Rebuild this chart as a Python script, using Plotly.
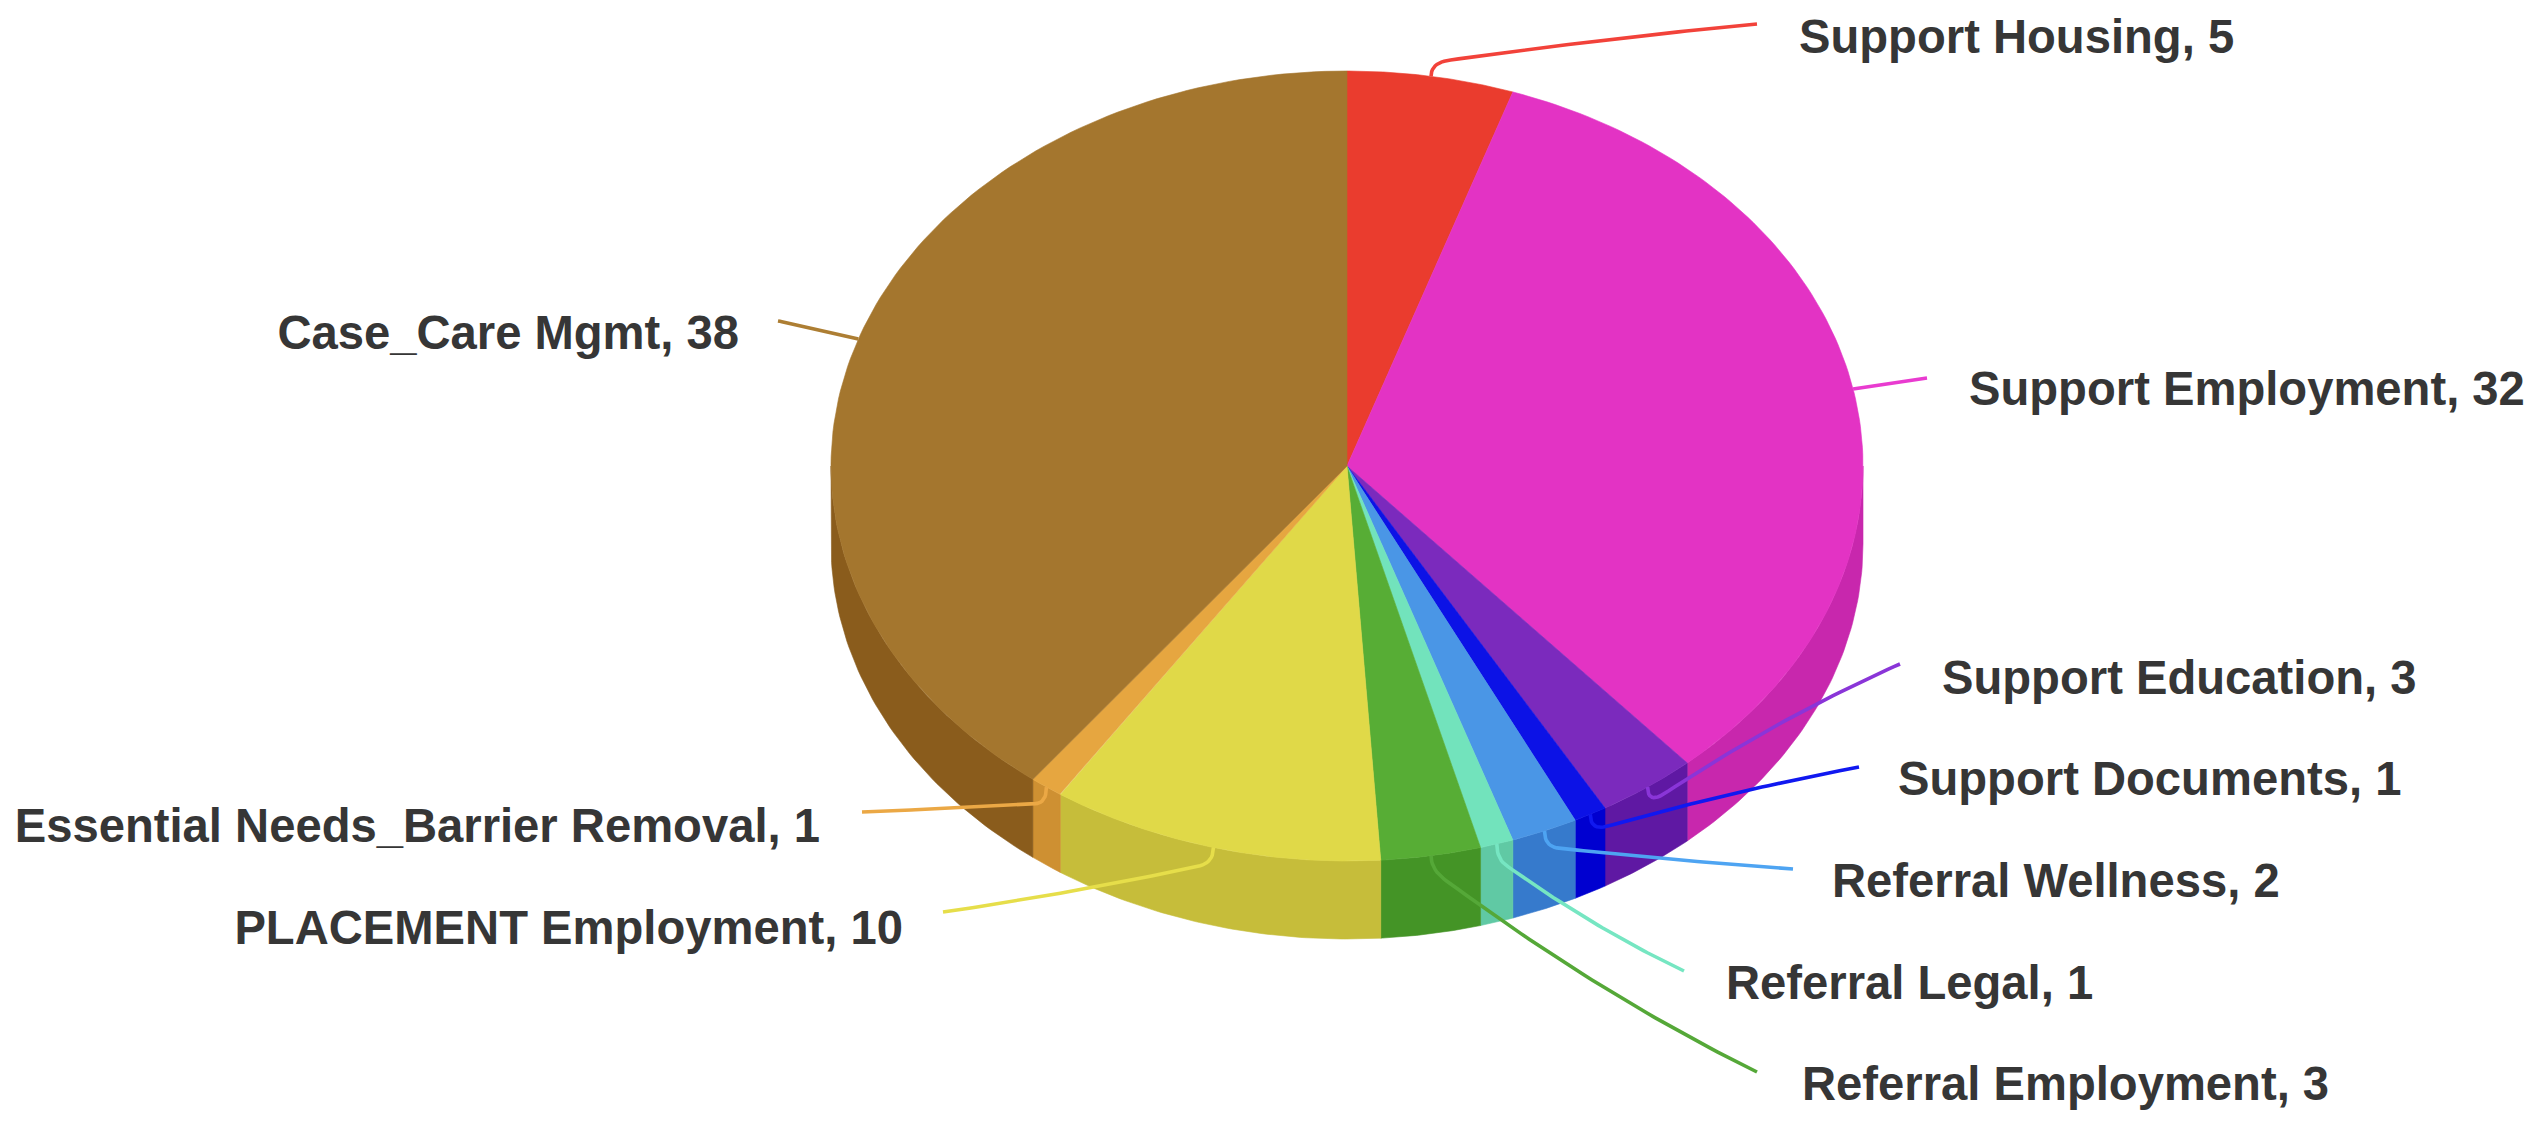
import numpy as np
import plotly.graph_objects as go

categories = ["Support Housing", "Support Employment", "Support Education", "Support Documents",
              "Referral Wellness", "Referral Legal", "Referral Employment", "PLACEMENT Employment",
              "Essential Needs_Barrier Removal", "Case_Care Mgmt"]
values = [5, 32, 3, 1, 2, 1, 3, 10, 1, 38]

top_colors = ["#EA3C2E", "#E333C4", "#7B2ABD", "#0C12E6", "#4A96E6", "#72E3BC", "#57AD35", "#E0D948", "#E6A640", "#A4762E"]
side_colors = ["#C9301F", "#C827AD", "#5F18A3", "#0000D0", "#367ACC", "#60C9A4", "#449426", "#C6BD3A", "#CE9032", "#8A5C1C"]
line_colors = ["#F2423A", "#E93BD0", "#8A35D8", "#1018F0", "#4EA4F2", "#76E6C2", "#55A838", "#E6DE4A", "#EBA845", "#AD7E33"]

# layout (pixels)
W, H = 2546, 1121
CX, CY, RX, RY, DEPTH = 1347, 466, 516, 395, 78
label_anchor = [(1757, 24), (1927, 378), (1900, 664), (1859, 767), (1793, 869), (1684, 971), (1757, 1072),
                (943, 912), (862, 812), (778, 321)]
label_text = [(1799, 41), (1969, 393), (1942, 682), (1898, 783), (1832, 885), (1726, 987), (1802, 1088),
              (903, 932), (820, 830), (739, 337)]
label_side = ["middle right"] * 7 + ["middle left"] * 3
FONT = "Liberation Sans, Arial, sans-serif"


def rim(theta_deg, depth=0.0):
    t = np.radians(theta_deg)
    return CX + RX * np.sin(t), CY - RY * np.cos(t) + depth


total = sum(values)
edges = np.cumsum([0] + values) / total * 360.0

fig = go.Figure()


def add_poly(xs, ys, color, name):
    fig.add_trace(go.Scatter(x=xs, y=ys, mode="lines", fill="toself", fillcolor=color,
                             line=dict(color=color, width=0.6), hoverinfo="skip", name=name,
                             showlegend=False))


# side walls (only the front half of the disc shows)
for i, name in enumerate(categories):
    a, b = max(edges[i], 90.0), min(edges[i + 1], 270.0)
    if b <= a:
        continue
    th = np.linspace(a, b, 60)
    x0, y0 = rim(th)
    x1, y1 = rim(th[::-1], DEPTH)
    add_poly(np.r_[x0, x1, x0[0]], np.r_[y0, y1, y0[0]], side_colors[i], name)

# top face
for i, name in enumerate(categories):
    th = np.linspace(edges[i], edges[i + 1], 120)
    x0, y0 = rim(th)
    add_poly(np.r_[CX, x0, CX], np.r_[CY, y0, CY], top_colors[i], name)


# leader lines: start on the rim at the slice's mid-angle, a tight crook, then a nearly straight run
def quad(p0, p1, p2, n=40):
    s = np.linspace(0, 1, n)[:, None]
    p0, p1, p2 = map(np.array, (p0, p1, p2))
    return (1 - s) ** 2 * p0 + 2 * (1 - s) * s * p1 + s ** 2 * p2


for i, name in enumerate(categories):
    mid = (edges[i] + edges[i + 1]) / 2
    sx, sy = rim(mid)
    ex, ey = label_anchor[i]
    if 70 < mid < 110 or 250 < mid < 300:
        crook = 0.0
    else:
        crook = 16.0 if 90 < mid < 270 else -14.0
    corner = (sx, sy + crook)
    q = (sx + (ex - sx) * 0.06, sy + crook + (ey - sy - crook) * 0.06)
    first = quad((sx, sy), corner, q, 12)
    ctrl = ((q[0] + ex) / 2, (q[1] + ey) / 2 + 0.1 * (ey - q[1]))
    second = quad(q, ctrl, (ex, ey))
    c = np.vstack([first, second])
    fig.add_trace(go.Scatter(x=c[:, 0], y=c[:, 1], mode="lines", line=dict(color=line_colors[i], width=3.6),
                             hoverinfo="skip", showlegend=False))

# labels
for i, name in enumerate(categories):
    fig.add_trace(go.Scatter(x=[label_text[i][0]], y=[label_text[i][1]], mode="text",
                             text=[f"<b>{name}, {values[i]}</b>"], textposition=label_side[i],
                             textfont=dict(family=FONT, size=47.2, color="#363636"),
                             hoverinfo="skip", showlegend=False, cliponaxis=False))

fig.update_layout(width=W, height=H, margin=dict(l=0, r=0, t=0, b=0), paper_bgcolor="white",
                  plot_bgcolor="white", showlegend=False)
fig.update_xaxes(range=[0, W], visible=False, fixedrange=True)
fig.update_yaxes(range=[H, 0], visible=False, fixedrange=True)
fig.write_html("out.html", post_script="document.body.style.margin='0';document.body.style.overflow='hidden';",
               config={"displayModeBar": False})
